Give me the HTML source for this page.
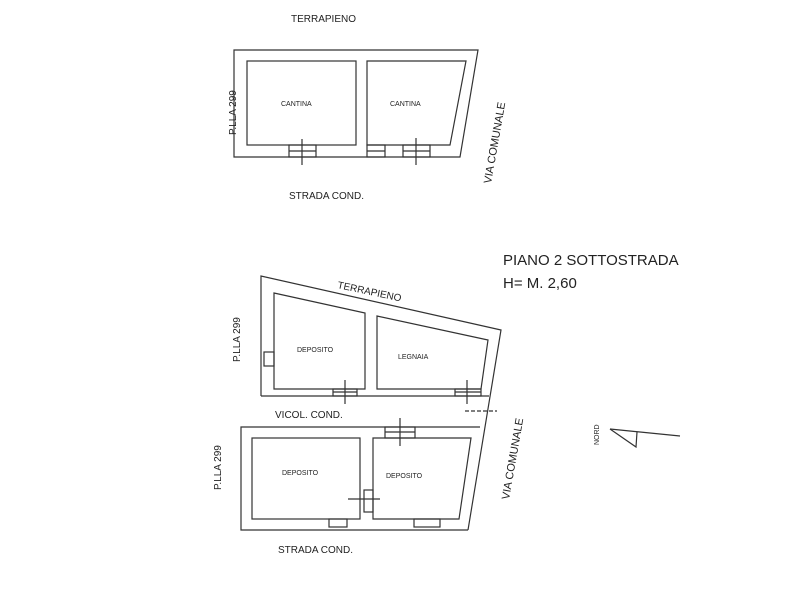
<!DOCTYPE html>
<html><head><meta charset="utf-8"><style>
html,body{margin:0;padding:0;background:#fff;width:800px;height:600px;overflow:hidden}
svg{display:block}
text{font-family:"Liberation Sans",sans-serif;fill:#222}
</style></head><body>
<svg width="800" height="600" viewBox="0 0 800 600">
<g fill="none" stroke="#333" stroke-width="1.2">
<polygon points="234,50 478,50 460,157 234,157"/>
<rect x="247" y="61" width="109" height="84"/>
<polygon points="367,61 466,61 450,145 367,145"/>
<rect x="289" y="145" width="27" height="12"/>
<line x1="289" y1="151" x2="316" y2="151"/>
<line x1="302" y1="139" x2="302" y2="165"/>
<rect x="367" y="145" width="18" height="12"/>
<line x1="367" y1="151" x2="385" y2="151"/>
<rect x="403" y="145" width="27" height="12"/>
<line x1="403" y1="151" x2="430" y2="151"/>
<line x1="416" y1="138" x2="416" y2="165"/>
<polyline points="261,396 261,276 501,330 468,530"/>
<line x1="261" y1="396" x2="489" y2="396"/>
<polygon points="274,293 365,313 365,389 274,389"/>
<polygon points="377,316 488,340 481,389 377,389"/>
<rect x="264" y="352" width="10" height="14"/>
<rect x="333" y="389" width="24" height="7"/>
<line x1="345" y1="380" x2="345" y2="404"/>
<line x1="333" y1="392" x2="357" y2="392"/>
<rect x="455" y="389" width="26" height="7"/>
<line x1="467" y1="380" x2="467" y2="404"/>
<line x1="455" y1="392" x2="481" y2="392"/>
<line x1="465" y1="411" x2="497" y2="411" stroke-dasharray="4 2"/>
<polyline points="480,427 241,427 241,530 468,530"/>
<rect x="252" y="438" width="108" height="81"/>
<polygon points="373,438 471,438 459,519 373,519"/>
<rect x="385" y="427" width="30" height="11"/>
<line x1="385" y1="432" x2="415" y2="432"/>
<line x1="400" y1="418" x2="400" y2="446"/>
<rect x="364" y="490" width="9" height="22"/>
<line x1="348" y1="499" x2="380" y2="499"/>
<rect x="329" y="519" width="18" height="8"/>
<rect x="414" y="519" width="26" height="8"/>
<line x1="610" y1="429" x2="680" y2="436"/>
<polyline points="610,429 636,447 637,432"/>
</g>
<text x="291" y="22" font-size="10">TERRAPIENO</text>
<text x="281" y="106" font-size="7">CANTINA</text>
<text x="390" y="106" font-size="7">CANTINA</text>
<text x="289" y="199" font-size="10">STRADA COND.</text>
<text transform="translate(236,135) rotate(-90)" font-size="10">P.LLA 299</text>
<text transform="translate(491,184) rotate(-80)" font-size="11">VIA COMUNALE</text>
<text x="503" y="265" font-size="15">PIANO 2 SOTTOSTRADA</text>
<text x="503" y="288" font-size="15">H= M. 2,60</text>
<text transform="translate(337,288) rotate(12)" font-size="10">TERRAPIENO</text>
<text x="297" y="352" font-size="7">DEPOSITO</text>
<text x="398" y="359" font-size="7">LEGNAIA</text>
<text x="275" y="418" font-size="10">VICOL. COND.</text>
<text transform="translate(240,362) rotate(-90)" font-size="10">P.LLA 299</text>
<text transform="translate(221,490) rotate(-90)" font-size="10">P.LLA 299</text>
<text x="282" y="475" font-size="7">DEPOSITO</text>
<text x="386" y="478" font-size="7">DEPOSITO</text>
<text transform="translate(509,500) rotate(-80)" font-size="11">VIA COMUNALE</text>
<text x="278" y="553" font-size="10">STRADA COND.</text>
<text transform="translate(599,445) rotate(-90)" font-size="7">NORD</text>
</svg>
</body></html>
